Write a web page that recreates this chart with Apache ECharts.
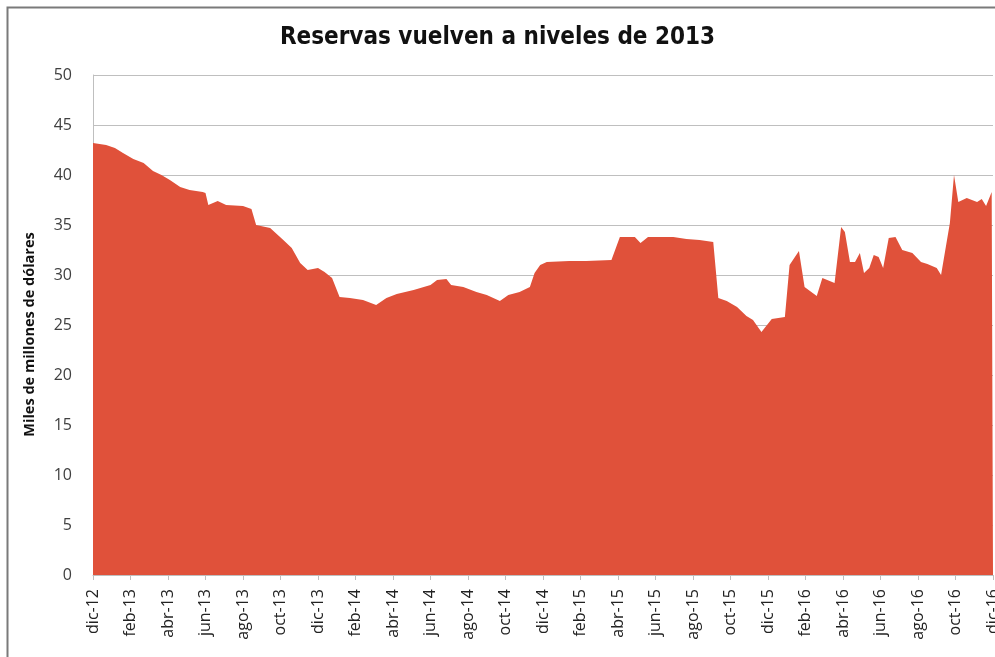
<!DOCTYPE html>
<html>
<head>
<meta charset="utf-8">
<script src="https://cdn.jsdelivr.net/npm/echarts@6/dist/echarts.min.js"></script>
<style>
  html, body { margin: 0; padding: 0; background: #fff; }
  #chart { width: 995px; height: 657px; }
</style>
</head>
<body>
<div id="chart"></div>
<script>
// etiquetas del eje x (cada 2 meses, desde dic-12)
const tickLabels = [
  "dic-12", "feb-13", "abr-13", "jun-13", "ago-13", "oct-13",
  "dic-13", "feb-14", "abr-14", "jun-14", "ago-14", "oct-14",
  "dic-14", "feb-15", "abr-15", "jun-15", "ago-15", "oct-15",
  "dic-15", "feb-16", "abr-16", "jun-16", "ago-16", "oct-16", "dic-16"
];

// meses transcurridos desde dic-12
const months = [
  0, 0.7, 1.17, 1.6, 2.15, 2.7, 3.2, 3.65, 4.1, 4.65, 5.15, 5.85, 6.0, 6.15,
  6.65, 7.1, 8.0, 8.45, 8.7, 9.45, 10.15, 10.6, 11.05, 11.45, 12.0, 12.35,
  12.75, 13.15, 13.7, 14.4, 15.1, 15.65, 16.2, 17.1, 18.0, 18.35, 18.85,
  19.1, 19.75, 20.45, 21.0, 21.7, 22.15, 22.75, 23.3, 23.55, 23.85, 24.2,
  25.4, 26.3, 27.65, 28.1, 28.9, 29.2, 29.6, 30.95, 31.65, 32.35, 33.08,
  33.35, 33.8, 34.35, 34.85, 35.2, 35.65, 36.2, 36.9, 37.15, 37.65, 37.95,
  38.6, 38.9, 39.55, 39.9, 40.1, 40.37, 40.64, 40.9, 41.12, 41.4, 41.64,
  41.9, 42.14, 42.44, 42.8, 43.16, 43.7, 44.16, 44.5, 45.0, 45.23, 45.7,
  45.92, 46.15, 46.6, 47.15, 47.4, 47.63, 47.93, 48
];

// reservas, miles de millones de dólares
const reserves = [
  43.2, 43.0, 42.7, 42.2, 41.6, 41.2, 40.4, 40.0, 39.5, 38.8, 38.5, 38.3, 38.2, 37.0,
  37.4, 37.0, 36.9, 36.6, 35.0, 34.7, 33.5, 32.7, 31.2, 30.5, 30.7, 30.3,
  29.7, 27.8, 27.7, 27.5, 27.0, 27.7, 28.1, 28.5, 29.0, 29.5, 29.6,
  29.0, 28.8, 28.3, 28.0, 27.4, 28.0, 28.3, 28.8, 30.2, 31.0, 31.3,
  31.4, 31.4, 31.5, 33.8, 33.8, 33.2, 33.8, 33.8, 33.6, 33.5, 33.3,
  27.7, 27.4, 26.8, 25.9, 25.5, 24.3, 25.6, 25.8, 31.0, 32.4, 28.8,
  27.9, 29.7, 29.2, 34.8, 34.3, 31.3, 31.3, 32.2, 30.2, 30.7, 32.0,
  31.8, 30.7, 33.7, 33.8, 32.5, 32.2, 31.3, 31.1, 30.7, 30.0, 35.2,
  40.0, 37.3, 37.7, 37.3, 37.6, 36.9, 38.3, 38.3
];

const chart = echarts.init(document.getElementById("chart"));

chart.setOption({
  animation: false,
  title: {
    text: "Reservas vuelven a niveles de 2013",
    left: "center",
    top: 21,
    textStyle: {
      fontFamily: "DejaVu Sans Condensed",
      fontWeight: "bold",
      fontSize: 24,
      color: "#111"
    }
  },
  graphic: [
    {
      type: "rect",
      shape: { x: 7.5, y: 7.5, width: 1000, height: 700 },
      style: { fill: "none", stroke: "#7a7a7a", lineWidth: 2 },
      silent: true
    }
  ],
  // la etiqueta dic-16 queda cortada en el borde, como en el original
  grid: { left: 93, right: 2, top: 75, bottom: 82, outerBoundsMode: "none" },
  xAxis: {
    type: "value",
    min: 0,
    max: 48,
    interval: 2,
    splitLine: { show: false },
    axisLine: { show: true, lineStyle: { color: "#bfbfbf" } },
    axisTick: { show: true, length: 5, lineStyle: { color: "#bfbfbf" } },
    axisLabel: {
      rotate: 90,
      margin: 14,
      fontFamily: "Open Sans",
      fontSize: 16,
      color: "#222",
      formatter: v => tickLabels[Math.round(v / 2)]
    }
  },
  yAxis: {
    type: "value",
    min: 0,
    max: 50,
    interval: 5,
    name: "Miles de millones de dólares",
    nameLocation: "middle",
    nameGap: 56,
    nameTextStyle: {
      fontFamily: "Open Sans",
      fontWeight: "bold",
      fontSize: 14.5,
      color: "#111",
      padding: [0, 19, 0, 0]
    },
    axisLine: { show: true, lineStyle: { color: "#bfbfbf" } },
    axisTick: { show: false },
    splitLine: { lineStyle: { color: "#bfbfbf", width: 1 } },
    axisLabel: {
      margin: 21,
      fontFamily: "Open Sans",
      fontSize: 16,
      color: "#404040"
    }
  },
  series: [
    {
      type: "line",
      data: months.map((m, i) => [m, reserves[i]]),
      showSymbol: false,
      lineStyle: { width: 0 },
      areaStyle: { color: "#e0513a", opacity: 1 },
      z: 3
    }
  ]
});
</script>
</body>
</html>
